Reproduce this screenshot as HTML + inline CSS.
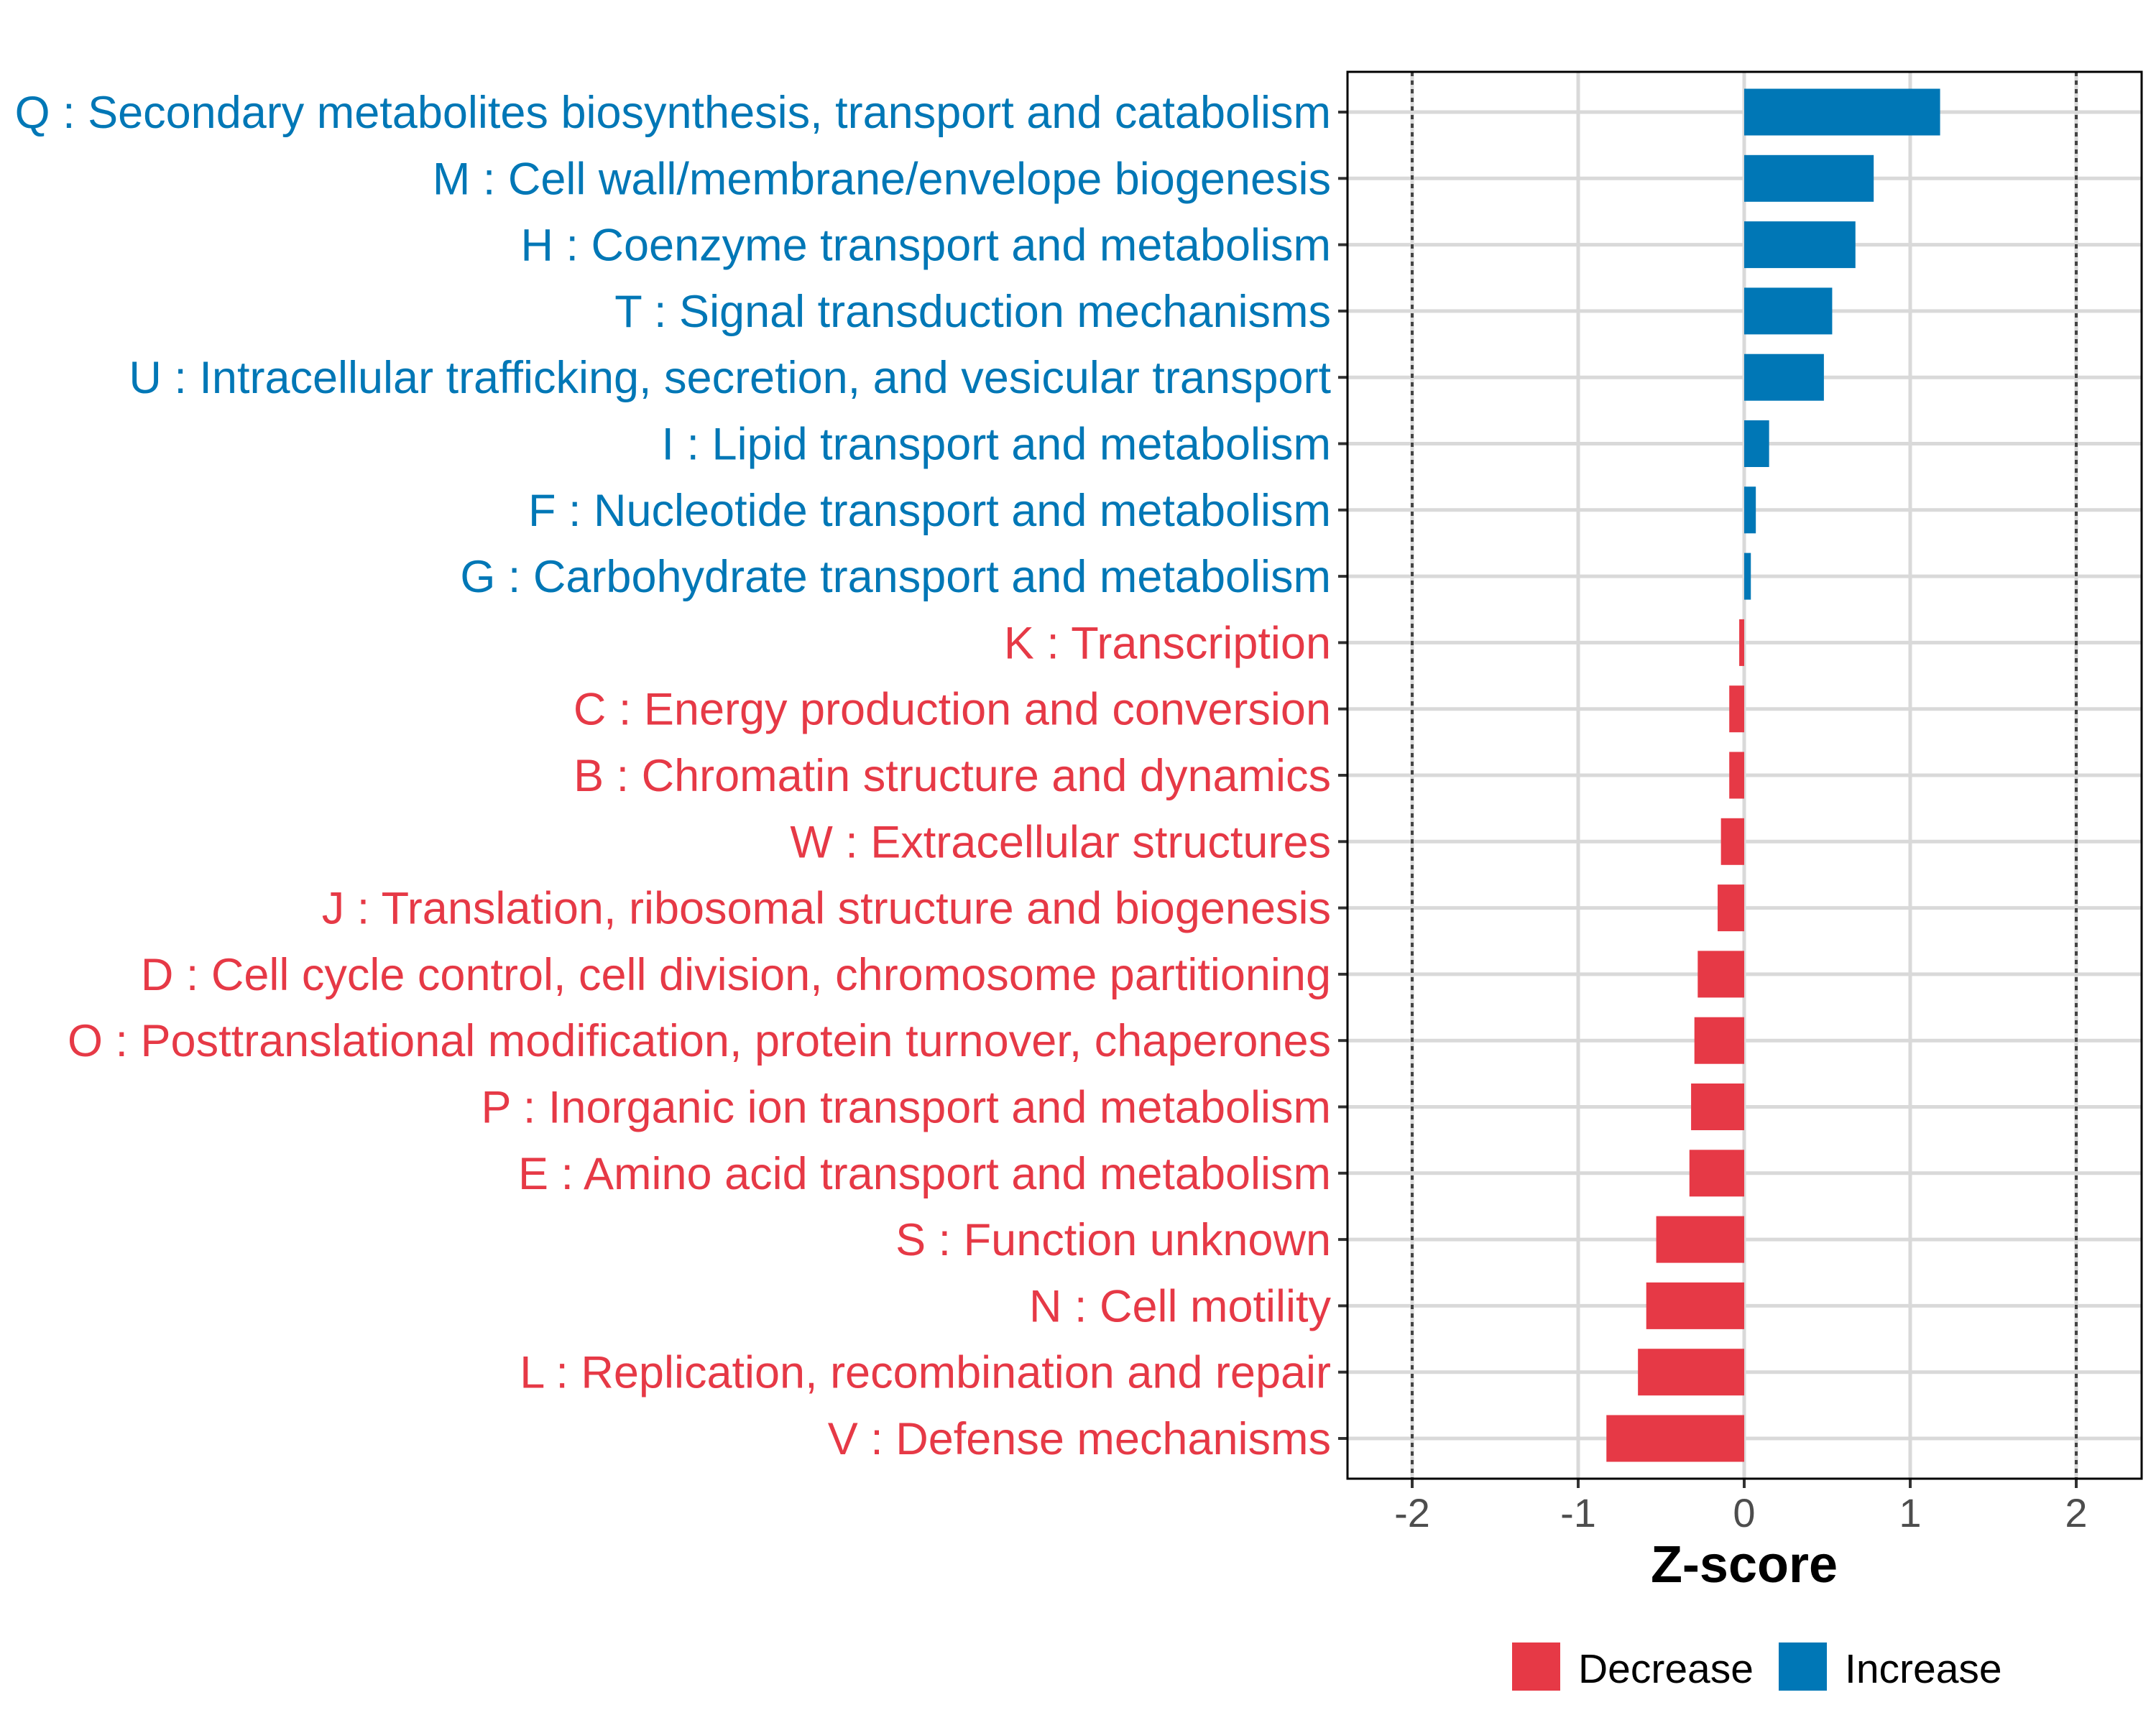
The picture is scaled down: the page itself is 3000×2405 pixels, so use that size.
<!DOCTYPE html>
<html><head><meta charset="utf-8"><style>
html,body{margin:0;padding:0;background:#fff;}
svg text{font-family:"Liberation Sans",Arial,sans-serif;}
</style></head><body>
<svg id="chart" width="3000" height="2400" viewBox="0 0 3000 2400" xmlns="http://www.w3.org/2000/svg">
<rect x="0" y="0" width="3000" height="2400" fill="#fff"/>
<g id="grid"></g>
<g id="bars"></g>
<g id="ylabels"></g>
<g id="xaxis"></g>
<rect x="1875" y="100" width="1105" height="1958" fill="none" stroke="#000" stroke-width="3"/>
<text x="2427" y="2202" text-anchor="middle" font-size="72" font-weight="bold" fill="#000">Z-score</text>
<g>
<rect x="2104" y="2286" width="67" height="67" fill="#E63946"/>
<text x="2196" y="2342" font-size="57" fill="#000">Decrease</text>
<rect x="2475" y="2286" width="67" height="67" fill="#0077B6"/>
<text x="2567" y="2342" font-size="57" fill="#000">Increase</text>
</g>
</svg>
<script>
const categories = ["Q : Secondary metabolites biosynthesis, transport and catabolism","M : Cell wall/membrane/envelope biogenesis","H : Coenzyme transport and metabolism","T : Signal transduction mechanisms","U : Intracellular trafficking, secretion, and vesicular transport","I : Lipid transport and metabolism","F : Nucleotide transport and metabolism","G : Carbohydrate transport and metabolism","K : Transcription","C : Energy production and conversion","B : Chromatin structure and dynamics","W : Extracellular structures","J : Translation, ribosomal structure and biogenesis","D : Cell cycle control, cell division, chromosome partitioning","O : Posttranslational modification, protein turnover, chaperones","P : Inorganic ion transport and metabolism","E : Amino acid transport and metabolism","S : Function unknown","N : Cell motility","L : Replication, recombination and repair","V : Defense mechanisms"];
const zscores = [1.18,0.78,0.67,0.53,0.48,0.15,0.07,0.04,-0.03,-0.09,-0.09,-0.14,-0.16,-0.28,-0.30,-0.32,-0.33,-0.53,-0.59,-0.64,-0.83];
const xTicks = [-2,-1,0,1,2];
const xTickLabels = ["-2","-1","0","1","2"];
const thresholds = [-2,2];

const NS="http://www.w3.org/2000/svg";
const X0=2427, UNIT=231, Y0=156, STEP=92.3, BARH=65;
const PL=1875, PR=2980, PT=100, PB=2058;
function xs(v){return X0+v*UNIT;}
function ys(i){return Y0+i*STEP;}
function mk(tag,attrs,parent){const e=document.createElementNS(NS,tag);for(const k in attrs)e.setAttribute(k,attrs[k]);parent.appendChild(e);return e;}
const grid=document.getElementById('grid'),bars=document.getElementById('bars'),yl=document.getElementById('ylabels'),xa=document.getElementById('xaxis');
xTicks.forEach((t)=>{
  const l=mk('line',{x1:xs(t),x2:xs(t),y1:PT,y2:PB,stroke:'#d9d9d9','stroke-width':5},grid);
  
  
});
categories.forEach((c,i)=>{
  const l=mk('line',{x1:PL,x2:PR,y1:ys(i),y2:ys(i),stroke:'#d9d9d9','stroke-width':5},grid);
  
  
});
thresholds.forEach((t)=>{
  const l=mk('line',{x1:xs(t),x2:xs(t),y1:PT,y2:PB,stroke:'#444','stroke-width':4,'stroke-dasharray':'6 6'},grid);
  
  
});
categories.forEach((c,i)=>{
  const v=zscores[i], col=v>=0?'#0077B6':'#E63946';
  const r=mk('rect',{x:Math.min(xs(0),xs(v)),y:ys(i)-BARH/2,width:Math.abs(xs(v)-xs(0)),height:BARH,fill:col},bars);
  
  
  const tk=mk('line',{x1:PL-13,x2:PL,y1:ys(i),y2:ys(i),stroke:'#333','stroke-width':4},yl);
  
  
  const t=mk('text',{x:1852,y:ys(i)+22,'text-anchor':'end','font-size':63,fill:col},yl);
  t.textContent=c;
  
  
});
xTicks.forEach((t,i)=>{
  const tk=mk('line',{x1:xs(t),x2:xs(t),y1:PB,y2:PB+13,stroke:'#333','stroke-width':4},xa);
  
  
  const tx=mk('text',{x:xs(t),y:2125,'text-anchor':'middle','font-size':56,fill:'#4d4d4d'},xa);
  tx.textContent=xTickLabels[i];
  
  
});
</script>
</body></html>
